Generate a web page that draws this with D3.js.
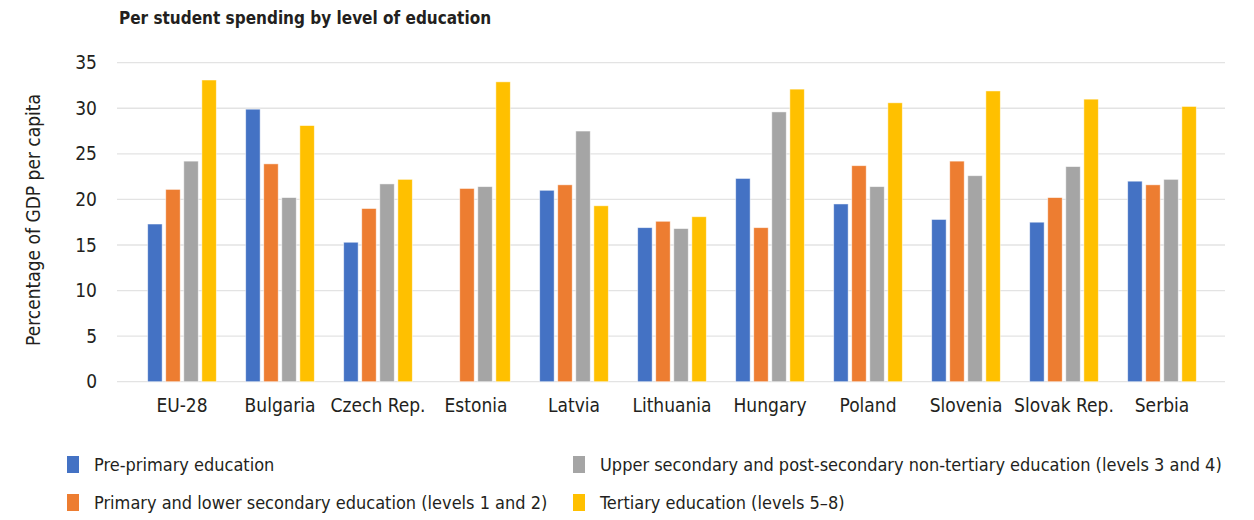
<!DOCTYPE html>
<html>
<head>
<meta charset="utf-8">
<script src="https://cdn.jsdelivr.net/npm/d3@7"></script>
<style>
  html, body { margin: 0; padding: 0; background: #fff; }
  svg text { font-family: "Liberation Sans Narrow", "DejaVu Sans Condensed", "Roboto", sans-serif; fill: #231f20; }
</style>
</head>
<body>
<svg id="chart" width="1254" height="520"></svg>
<script>
// Per student spending, % of GDP per capita
const countries = ["EU-28", "Bulgaria", "Czech Rep.", "Estonia", "Latvia", "Lithuania",
                   "Hungary", "Poland", "Slovenia", "Slovak Rep.", "Serbia"];
const seriesNames = [
  "Pre-primary education",
  "Primary and lower secondary education (levels 1 and 2)",
  "Upper secondary and post-secondary non-tertiary education (levels 3 and 4)",
  "Tertiary education (levels 5\u20138)"
];
const prePrimary     = [17.3, 29.9, 15.3, null, 21.0, 16.9, 22.3, 19.5, 17.8, 17.5, 22.0];
const primaryLower   = [21.1, 23.9, 19.0, 21.2, 21.6, 17.6, 16.9, 23.7, 24.2, 20.2, 21.6];
const upperSecondary = [24.2, 20.2, 21.7, 21.4, 27.5, 16.8, 29.6, 21.4, 22.6, 23.6, 22.2];
const tertiary       = [33.1, 28.1, 22.2, 32.9, 19.3, 18.1, 32.1, 30.6, 31.9, 31.0, 30.2];
const yTicks = [0, 5, 10, 15, 20, 25, 30, 35];
const colors = ["#4472C4", "#ED7D31", "#A5A5A5", "#FFC000"];

const seriesValues = [prePrimary, primaryLower, upperSecondary, tertiary];

const svg = d3.select("#chart");

const plotLeft = 117, plotRight = 1225;
const y = d3.scaleLinear().domain([0, 35]).range([381.7, 62.7]);
const x0 = d3.scaleBand().domain(countries).range([133, 1211]).paddingInner(0.3).paddingOuter(0.15);
const x1 = d3.scaleBand().domain(d3.range(seriesNames.length)).range([0, x0.bandwidth()]).paddingInner(0.2);

// Title
svg.append("text")
  .attr("x", 119).attr("y", 24)
  .attr("font-size", 17).attr("font-weight", "bold")
  .text("Per student spending by level of education");

// Gridlines
svg.append("g").selectAll("line")
  .data(yTicks)
  .join("line")
  .attr("x1", plotLeft).attr("x2", plotRight)
  .attr("y1", d => y(d)).attr("y2", d => y(d))
  .attr("stroke", "#e3e3e3").attr("stroke-width", 1.3);

// Y axis tick labels
const yAxis = d3.axisLeft(y).tickValues(yTicks).tickSize(0).tickPadding(0);
const gy = svg.append("g").attr("transform", "translate(97,0)").call(yAxis);
gy.select(".domain").remove();
gy.selectAll("text").attr("font-size", 19).attr("fill", "#231f20")
  .style("font-family", "'Liberation Sans Narrow', 'DejaVu Sans Condensed', sans-serif");

// Y axis title
svg.append("text")
  .attr("transform", "translate(40,220) rotate(-90)")
  .attr("text-anchor", "middle")
  .attr("font-size", 19)
  .text("Percentage of GDP per capita");

// Bars
const groups = svg.append("g").selectAll("g")
  .data(countries)
  .join("g")
  .attr("transform", d => `translate(${x0(d)},0)`);

groups.selectAll("rect")
  .data((c, i) => seriesValues.map((vals, s) => ({ s, v: vals[i] })).filter(d => d.v != null))
  .join("rect")
  .attr("x", d => x1(d.s))
  .attr("width", x1.bandwidth())
  .attr("y", d => y(d.v))
  .attr("height", d => y(0) - y(d.v))
  .attr("fill", d => colors[d.s])
  .attr("stroke", "#ffffff").attr("stroke-opacity", 0.6).attr("stroke-width", 0.8);

// X axis category labels
const xAxis = d3.axisBottom(x0).tickSize(0).tickPadding(0);
const gx = svg.append("g").attr("transform", `translate(0,${y(0) + 30})`).call(xAxis);
gx.select(".domain").remove();
gx.selectAll("text").attr("font-size", 19).attr("fill", "#231f20").attr("dy", 0)
  .style("font-family", "'Liberation Sans Narrow', 'DejaVu Sans Condensed', sans-serif");

// Legend
const legendPos = [
  { x: 67, y: 465 }, { x: 67, y: 503 },
  { x: 573, y: 465 }, { x: 573, y: 503 }
];
const legend = svg.append("g").selectAll("g")
  .data(seriesNames)
  .join("g")
  .attr("transform", (d, i) => `translate(${legendPos[i].x},${legendPos[i].y})`);
legend.append("rect")
  .attr("x", 0).attr("y", -9).attr("width", 12).attr("height", 17)
  .attr("fill", (d, i) => colors[i]);
legend.append("text")
  .attr("x", 27).attr("y", 6)
  .attr("font-size", 18)
  .text(d => d);
</script>
</body>
</html>
